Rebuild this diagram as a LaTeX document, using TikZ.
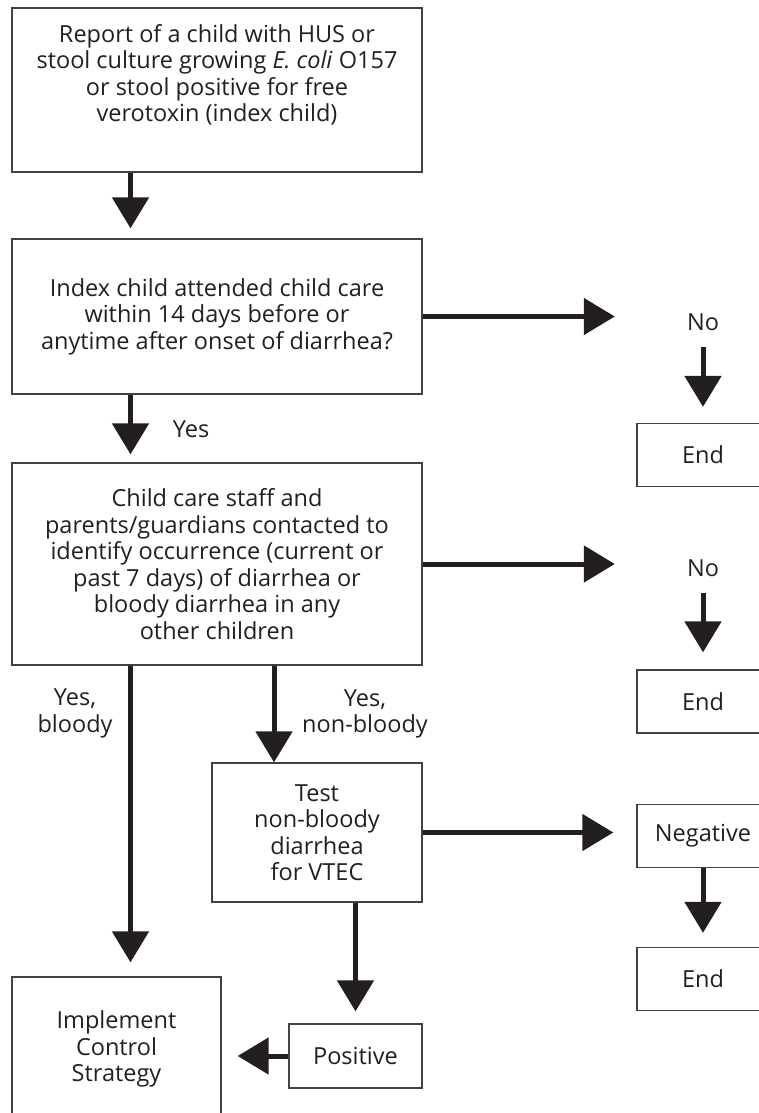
\documentclass[tikz,border=0pt]{standalone}
\usepackage{fontspec}
\setmainfont{Open Sans}
\usetikzlibrary{arrows.meta}
\definecolor{ink}{HTML}{231F20}
\begin{document}
\begin{tikzpicture}[x=1pt, y=-1pt]
        \tikzset{
            every node/.style={font=\fontsize{23.5}{26.5}\selectfont, text=ink, align=center, inner sep=0pt},
            box/.style={draw=ink!85, line width=1.3pt},
            endbox/.style={box, minimum width=132pt, minimum height=63pt},
            nolabel/.style={minimum width=132pt},
            flow/.style={draw=ink, line width=5pt, -{Triangle[width=36pt, length=31pt]}}
        }
        \useasboundingbox (0,0) rectangle (759,1113);
        \clip (0,0) rectangle (759,1113);

        % main column
        \node[box, minimum width=410pt, minimum height=164pt, text depth=34pt] (report) at (217,90)
            {Report of a child with HUS or\\ stool culture growing \textit{E. coli} O157\\ or stool positive for free\\ verotoxin (index child)};
        \node[box, minimum width=410pt, minimum height=155pt] (attend) at (217,316.5)
            {Index child attended child care\\ within 14 days before or\\ anytime after onset of diarrhea?};
        \node[box, minimum width=410pt, minimum height=202pt] (contact) at (217,564)
            {Child care staff and\\ parents/guardians contacted to\\ identify occurrence (current or\\ past 7 days) of diarrhea or\\ bloody diarrhea in any\\ other children};
        \node[box, minimum width=210pt, minimum height=139pt] (test) at (317,832.5)
            {Test\\ non-bloody\\ diarrhea\\ for VTEC};
        \node[box, minimum width=133pt, minimum height=64pt] (pos) at (355.5,1056) {Positive};
        \node[box, minimum width=209pt, minimum height=144pt] (control) at (116.5,1049)
            {Implement\\ Control\\ Strategy};

        % right column
        \node[nolabel] (no1) at (703,322) {No};
        \node[endbox] (end1) at (703,455) {End};
        \node[nolabel] (no2) at (703,568) {No};
        \node[endbox] (end2) at (703,701.5) {End};
        \node[endbox] (neg) at (703,836) {Negative};
        \node[endbox] (end3) at (703,979) {End};

        % labels
        \node (yes) at (191,429) {Yes};
        \node (bloody) at (75,713.5) {Yes,\\ bloody};
        \node (nonbloody) at (365,714) {Yes,\\ non-bloody};

        \coordinate (spine) at (130.5,0);
        \coordinate (branch) at (274,0);

        \draw[flow, shorten >=10pt] (spine |- report.south) -- (spine |- attend.north);
        \draw[flow, shorten >=8pt] (spine |- attend.south) -- (spine |- contact.north);
        \draw[flow, shorten >=14pt] (spine |- contact.south) -- (spine |- control.north);
        \draw[flow] (branch |- contact.south) -- (branch |- test.north);
        \draw[flow, shorten >=12pt] (pos.north |- test.south) -- (pos.north);
        \draw[flow, shorten >=16pt] (pos.west) -- (pos.west -| control.east);

        \draw[flow, shorten >=22pt] (attend.east) -- (attend.east -| no1.west);
        \draw[flow, shorten <=16pt, shorten >=16pt] (no1.south) -- (end1.north);
        \draw[flow, shorten >=22pt] (contact.east) -- (contact.east -| no2.west);
        \draw[flow, shorten <=16pt, shorten >=17pt] (no2.south) -- (end2.north);
        \draw[flow, shorten >=23pt] (test.east) -- (test.east -| neg.west);
        \draw[flow, shorten >=14pt] (neg.south) -- (end3.north);
\end{tikzpicture}
\end{document}
